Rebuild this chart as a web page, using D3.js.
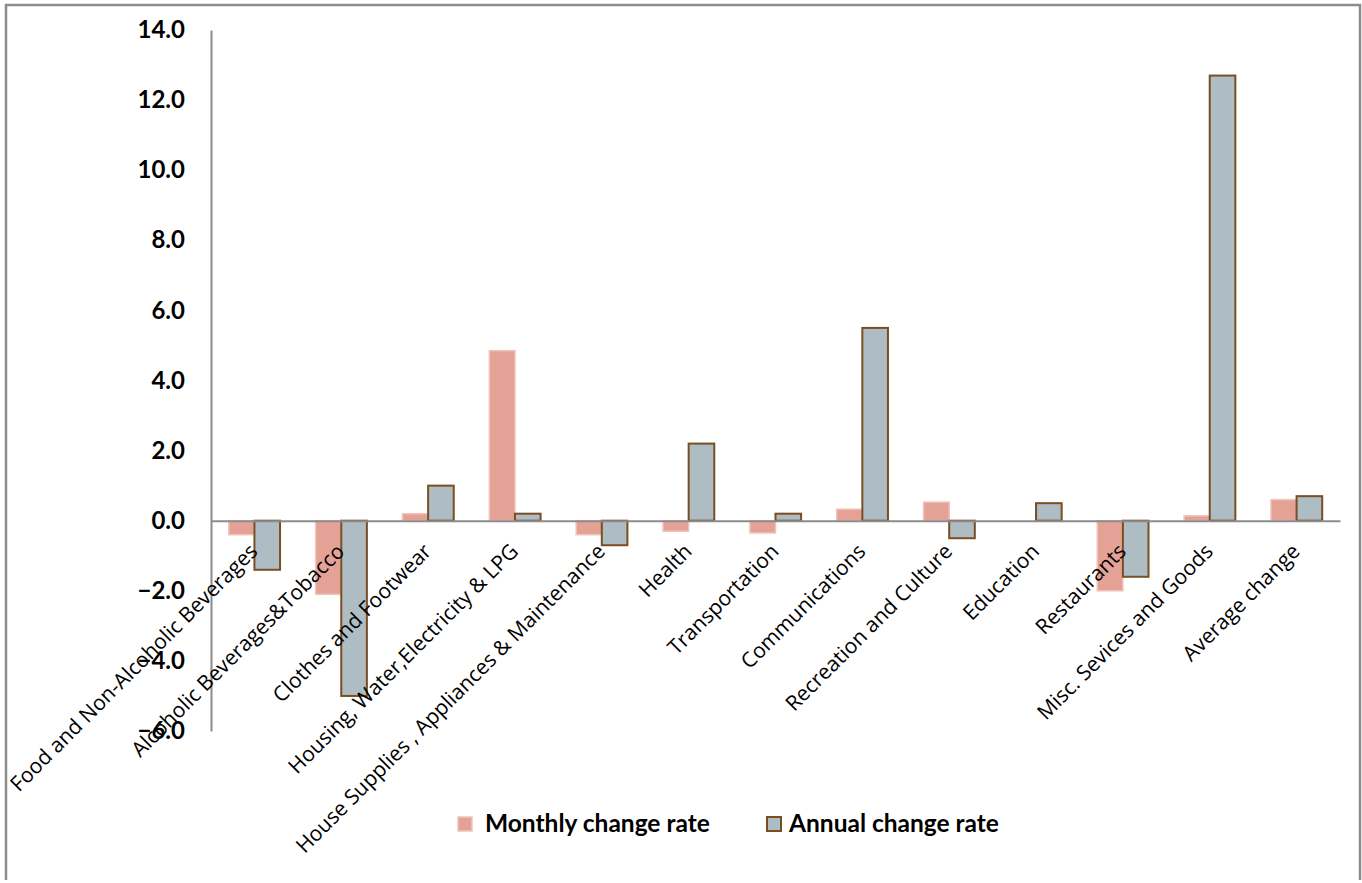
<!DOCTYPE html>
<html>
<head>
<meta charset="utf-8">
<script src="https://cdn.jsdelivr.net/npm/d3@7"></script>
<style>
  html, body { margin: 0; padding: 0; background: #fff; }
  svg { display: block; }
</style>
</head>
<body>
<svg id="chart" width="1362" height="883"></svg>
<script>
const categories = [
  "Food and Non-Alcoholic Beverages",
  "Alcoholic Beverages&Tobacco",
  "Clothes and Footwear",
  "Housing, Water,Electricity & LPG",
  "House Supplies , Appliances & Maintenance",
  "Health",
  "Transportation",
  "Communications",
  "Recreation and Culture",
  "Education",
  "Restaurants",
  "Misc. Sevices and Goods",
  "Average change"
];
const monthlyRate = [-0.4, -2.1, 0.2, 4.85, -0.4, -0.3, -0.35, 0.33, 0.53, 0.0, -2.0, 0.14, 0.6];
const annualRate  = [-1.4, -5.0, 1.0, 0.2, -0.7, 2.2, 0.2, 5.5, -0.5, 0.5, -1.6, 12.7, 0.7];
const seriesNames = ["Monthly change rate", "Annual change rate"];
const yTicks = [14, 12, 10, 8, 6, 4, 2, 0, -2, -4, -6];

const svg = d3.select("#chart");

// outer frame
svg.append("path")
  .attr("d", "M6,880 L6,5 L1360,5 L1360,880")
  .attr("fill", "none").attr("stroke", "#8c8c8c").attr("stroke-width", 2.5);

const plot = { left: 211, right: 1340, top: 30, bottom: 731 };

const y = d3.scaleLinear().domain([-6, 14]).range([plot.bottom, plot.top]);
const x = d3.scaleBand().domain(categories).range([plot.left, plot.right])
  .paddingInner(0.41).paddingOuter(0.205);
const xs = d3.scaleBand().domain(seriesNames).range([0, x.bandwidth()]);

const seriesData = [monthlyRate, annualRate];
const styles = [
  { fill: "#e3a295", stroke: "#f0c3b9", sw: 1.5 },
  { fill: "#aebdc4", stroke: "#7a4e22", sw: 2 }
];

// bars
seriesData.forEach((vals, si) => {
  svg.append("g").selectAll("rect")
    .data(vals.map((v, i) => ({ v, c: categories[i] })).filter(d => d.v !== 0))
    .join("rect")
    .attr("x", d => x(d.c) + xs(seriesNames[si]))
    .attr("width", xs.bandwidth())
    .attr("y", d => y(Math.max(0, d.v)))
    .attr("height", d => Math.abs(y(d.v) - y(0)))
    .attr("fill", styles[si].fill)
    .attr("stroke", styles[si].stroke)
    .attr("stroke-width", styles[si].sw);
});

// y axis
const yAxis = d3.axisLeft(y).tickValues(yTicks).tickFormat(d3.format(".1f")).tickSize(0).tickPadding(26);
const gy = svg.append("g").attr("transform", `translate(${plot.left},0)`).call(yAxis);
gy.select(".domain").attr("stroke", "#8c8c8c").attr("stroke-width", 2);
gy.selectAll("text")
  .attr("font-family", "Lato, sans-serif").attr("font-weight", "bold")
  .attr("font-size", 24).attr("fill", "#000");

// x axis line at zero
const xAxis = d3.axisBottom(x).tickSize(0).tickFormat("");
const gx = svg.append("g").attr("transform", `translate(0,${y(0)})`).call(xAxis);
gx.select(".domain").attr("stroke", "#8c8c8c").attr("stroke-width", 2);

// category labels
svg.append("g").selectAll("text")
  .data(categories)
  .join("text")
  .attr("transform", d => `translate(${x(d) + x.bandwidth() / 2 + 4.5},${y(0) + 32}) rotate(-45)`)
  .attr("text-anchor", "end")
  .attr("font-family", "'Open Sans', sans-serif")
  .attr("font-size", 21)
  .attr("fill", "#000")
  .text(d => d);

// legend
const legend = svg.append("g");
const legendItems = [
  { name: seriesNames[0], sx: 458, tx: 485 },
  { name: seriesNames[1], sx: 767, tx: 789 }
];
legendItems.forEach((it, i) => {
  legend.append("rect")
    .attr("x", it.sx).attr("y", 817).attr("width", 14).attr("height", 14)
    .attr("fill", styles[i].fill).attr("stroke", styles[i].stroke).attr("stroke-width", styles[i].sw);
  legend.append("text")
    .attr("x", it.tx).attr("y", 832)
    .attr("font-family", "Lato, sans-serif").attr("font-weight", "bold")
    .attr("font-size", 24.5).attr("fill", "#000")
    .text(it.name);
});
</script>
</body>
</html>
